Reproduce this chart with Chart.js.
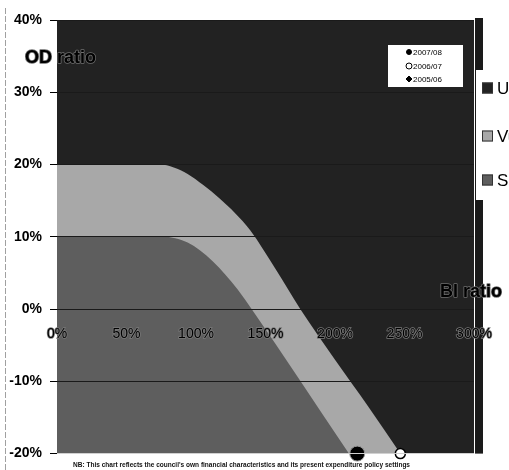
<!DOCTYPE html>
<html>
<head>
<meta charset="utf-8">
<script src="https://cdn.jsdelivr.net/npm/chart.js@4/dist/chart.umd.min.js"></script>
<style>
  html, body { margin: 0; padding: 0; background: #fff; }
  #wrap { position: relative; width: 509px; height: 470px; overflow: hidden; }
</style>
</head>
<body>
<div id="wrap"><canvas id="c" width="509" height="470"></canvas></div>
<script>
// Axis ticks (percent)
const xTickValues = [0, 50, 100, 150, 200, 250, 300];
const yTickValues = [-20, -10, 0, 10, 20, 30, 40];

// Zone boundaries: BI ratio (x, %) against OD ratio (y, %)
const bandNames = ['Unsustainable', 'Vulnerable', 'Sustainable'];
const unsustainableX = [0, 300];
const unsustainableY = [40, 40];
const vulnerableX = [0, 74, 84, 94, 105, 117, 128, 139, 157, 175, 200, 224, 247];
const vulnerableY = [20, 20, 19.6, 18.7, 17.2, 15.3, 13.3, 10.9, 5.6, 0, -7, -13.5, -20];
const sustainableX = [0, 76, 85, 94, 103, 112, 121, 130, 140, 210];
const sustainableY = [10, 10, 9.8, 9.2, 8.1, 6.6, 4.8, 2.7, 0, -20];

// Council position by year
const yearLabels = ['2007/08', '2006/07', '2005/06'];
const yearBI = [216, 247, null];
const yearOD = [-20, -20, null];

const footnote = "NB: This chart reflects the council's own financial characteristics and its present expenditure policy settings";

const FONT = "'Liberation Sans', Arial, sans-serif";
const zoneColors = ['#222222', '#a8a8a8', '#5e5e5e'];

function zipXY(xs, ys) {
  return xs.map((x, i) => ({ x: x, y: ys[i] }));
}
function yearPoint(i) {
  return yearBI[i] == null ? [] : [{ x: yearBI[i], y: yearOD[i] }];
}

const zoneSets = [
  [unsustainableX, unsustainableY],
  [vulnerableX, vulnerableY],
  [sustainableX, sustainableY]
].map(([xs, ys], i) => ({
  type: 'line',
  label: bandNames[i],
  zone: true,
  data: zipXY(xs, ys),
  showLine: true,
  fill: 'start',
  backgroundColor: zoneColors[i],
  borderColor: zoneColors[i],
  borderWidth: 0,
  pointRadius: 0,
  cubicInterpolationMode: 'monotone',
  order: 3 - i
}));

const yearStyles = [
  { pointStyle: 'circle', backgroundColor: '#000', borderColor: '#9a9a9a', borderWidth: 1, radius: 7.5, legendRadius: 2.5 },
  { pointStyle: 'circle', backgroundColor: '#fff', borderColor: '#000', borderWidth: 1.5, radius: 5, legendRadius: 3 },
  { pointStyle: 'rectRot', backgroundColor: '#000', borderColor: '#000', borderWidth: 1, radius: 4, legendRadius: 3 }
];

const yearSets = yearLabels.map((lab, i) => ({
  type: 'scatter',
  label: lab,
  year: true,
  legendRadius: yearStyles[i].legendRadius,
  data: yearPoint(i),
  pointStyle: yearStyles[i].pointStyle,
  backgroundColor: yearStyles[i].backgroundColor,
  borderColor: yearStyles[i].borderColor,
  borderWidth: yearStyles[i].borderWidth,
  pointRadius: yearStyles[i].radius,
  clip: false,
  order: 0
}));

function haloText(ctx, text, x, y, font, align) {
  ctx.save();
  ctx.font = font;
  ctx.textAlign = align || 'left';
  ctx.textBaseline = 'middle';
  ctx.lineJoin = 'round';
  ctx.strokeStyle = '#6e6e6e';
  ctx.lineWidth = 1.5;
  ctx.strokeText(text, x, y);
  ctx.fillStyle = '#000';
  ctx.fillText(text, x, y);
  ctx.restore();
}

const decorations = {
  id: 'decorations',
  beforeDraw(chart) {
    const ctx = chart.ctx;
    const a = chart.chartArea;
    ctx.save();
    // left page edge line
    ctx.strokeStyle = '#a0a0a0';
    ctx.lineWidth = 1;
    ctx.setLineDash([6, 2]);
    ctx.beginPath();
    ctx.moveTo(5.5, 8);
    ctx.lineTo(5.5, 470);
    ctx.stroke();
    ctx.setLineDash([]);
    // dark strip along the right side of the plot frame
    ctx.fillStyle = '#1a1a1a';
    ctx.fillRect(a.right + 1, a.top - 2, 8, a.bottom - a.top + 2);
    ctx.restore();
  },
  afterDraw(chart) {
    const ctx = chart.ctx;
    const a = chart.chartArea;
    const sets = chart.data.datasets;

    // axis titles
    haloText(ctx, 'OD ratio', 25, 58, 'bold 18px ' + FONT, 'left');
    haloText(ctx, 'BI ratio', 440, 292, 'bold 18px ' + FONT, 'left');

    // zone legend on the right
    ctx.save();
    ctx.fillStyle = '#fff';
    ctx.fillRect(a.right + 2, 70, 509 - a.right, 130);
    ctx.restore();
    const zoneRows = [88, 136, 180];
    sets.filter(d => d.zone).forEach((d, i) => {
      ctx.save();
      ctx.fillStyle = d.backgroundColor;
      ctx.fillRect(482, zoneRows[i] - 5.5, 11, 11);
      ctx.strokeStyle = '#333';
      ctx.lineWidth = 1;
      ctx.strokeRect(482.5, zoneRows[i] - 5, 10, 10);
      ctx.font = '17px ' + FONT;
      ctx.fillStyle = '#000';
      ctx.textBaseline = 'middle';
      ctx.fillText(d.label, 497, zoneRows[i] + 1);
      ctx.restore();
    });

    // year legend box
    const bx = 388, by = 45, bw = 75, bh = 42;
    ctx.save();
    ctx.fillStyle = '#fff';
    ctx.fillRect(bx, by, bw, bh);
    const rows = [52, 66, 79];
    sets.filter(d => d.year).forEach((d, i) => {
      const cx = 409, cy = rows[i];
      ctx.fillStyle = d.backgroundColor;
      ctx.strokeStyle = '#000';
      ctx.lineWidth = 1;
      const r = d.legendRadius;
      ctx.beginPath();
      if (d.pointStyle === 'rectRot') {
        ctx.moveTo(cx, cy - r); ctx.lineTo(cx + r, cy); ctx.lineTo(cx, cy + r); ctx.lineTo(cx - r, cy); ctx.closePath();
      } else {
        ctx.arc(cx, cy, r, 0, Math.PI * 2);
      }
      ctx.fill();
      ctx.stroke();
      ctx.font = '8px ' + FONT;
      ctx.fillStyle = '#000';
      ctx.textBaseline = 'middle';
      ctx.fillText(d.label, 413, cy + 0.5);
    });
    ctx.restore();

    // footnote
    ctx.save();
    ctx.font = 'bold 8px ' + FONT;
    ctx.fillStyle = '#111';
    ctx.textBaseline = 'middle';
    ctx.fillText(footnote, 73, 465, 337);
    ctx.restore();
  }
};

new Chart(document.getElementById('c'), {
  type: 'scatter',
  data: { datasets: zoneSets.concat(yearSets) },
  options: {
    responsive: false,
    animation: false,
    devicePixelRatio: 1,
    layout: { padding: { left: 0, right: 35, top: 20, bottom: 14 } },
    plugins: { legend: { display: false }, tooltip: { enabled: false } },
    scales: {
      x: {
        type: 'linear',
        min: 0,
        max: 300,
        position: { y: 0 },
        afterBuildTicks: s => { s.ticks = xTickValues.map(v => ({ value: v })); },
        ticks: {
          z: 1,
          font: { family: FONT, size: 14 },
          color: '#000',
          padding: 17,
          textStrokeColor: '#7a7a7a',
          textStrokeWidth: 1.5,
          maxRotation: 0,
          autoSkip: false,
          callback: v => v + '%'
        },
        grid: { display: false, drawTicks: false },
        border: { display: false }
      },
      y: {
        type: 'linear',
        min: -20,
        max: 40,
        position: 'left',
        afterBuildTicks: s => { s.ticks = yTickValues.map(v => ({ value: v })); },
        afterFit: s => { s.width = 57; },
        ticks: {
          z: 1,
          font: { family: FONT, size: 14, weight: 'bold' },
          color: '#000',
          padding: 8,
          callback: v => v + '%'
        },
        grid: {
          z: 1,
          color: c => (c.tick && c.tick.value === -20) ? '#d0d0d0' : '#1a1a1a',
          lineWidth: 1,
          tickLength: 7,
          tickColor: '#000'
        },
        border: { display: false }
      }
    }
  },
  plugins: [decorations]
});
</script>
</body>
</html>
